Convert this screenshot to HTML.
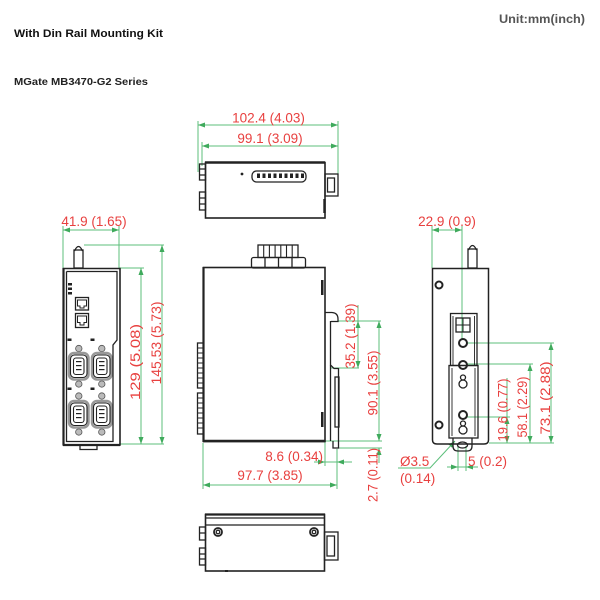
<!DOCTYPE html>
<html><head><meta charset="utf-8"><style>
html,body{margin:0;padding:0;background:#fff;}
svg{display:block}
text{font-family:"Liberation Sans",Arial,sans-serif;}
</style></head><body>
<svg width="600" height="600" viewBox="0 0 600 600" xmlns="http://www.w3.org/2000/svg">
<defs>
<marker id="a" viewBox="0 0 7 5" refX="7" refY="2.5" markerWidth="7" markerHeight="5" orient="auto-start-reverse" markerUnits="userSpaceOnUse"><path d="M0,0L7,2.5L0,5z" fill="#3faa5c"/></marker>
</defs>
<rect width="600" height="600" fill="#fff"/>

<!-- headers -->
<text x="499" y="23" font-size="12" font-weight="bold" fill="#555" textLength="86" lengthAdjust="spacingAndGlyphs">Unit:mm(inch)</text>
<text x="14" y="37" font-size="11" font-weight="bold" fill="#111" textLength="149" lengthAdjust="spacingAndGlyphs">With Din Rail Mounting Kit</text>
<text x="14" y="85" font-size="10.5" font-weight="bold" fill="#222" textLength="134" lengthAdjust="spacingAndGlyphs">MGate MB3470-G2 Series</text>

<!-- ================= GREEN DIMENSION LINES ================= -->
<g stroke="#5cbf7b" stroke-width="1" fill="none">
  <path d="M198,121V172M202,142V166M338,121V176"/>
  <line x1="198" y1="125" x2="338" y2="125" marker-start="url(#a)" marker-end="url(#a)"/>
  <line x1="202" y1="146" x2="338" y2="146" marker-start="url(#a)" marker-end="url(#a)"/>
  <path d="M63,226V268M119,226V268"/>
  <line x1="63" y1="230" x2="119" y2="230" marker-start="url(#a)" marker-end="url(#a)"/>
  <path d="M84,245H164M119,268H144M119,444H164"/>
  <line x1="162" y1="245" x2="162" y2="444" marker-start="url(#a)" marker-end="url(#a)"/>
  <line x1="141" y1="268" x2="141" y2="444" marker-start="url(#a)" marker-end="url(#a)"/>
  <path d="M358,305V321"/>
  <line x1="358" y1="321" x2="358" y2="368" marker-start="url(#a)" marker-end="url(#a)"/>
  <path d="M338,321H381M330,368H359"/>
  <line x1="379" y1="321" x2="379" y2="441" marker-start="url(#a)" marker-end="url(#a)"/>
  <path d="M325,441H382M338,448H382M379,448V463"/>
  <path d="M325,442V466M337,449V489M314,462H352"/>
  <path d="M203,443V489"/>
  <line x1="203" y1="485" x2="337" y2="485" marker-start="url(#a)" marker-end="url(#a)"/>
  <path d="M432,226V268M462,226V340"/>
  <line x1="432" y1="230" x2="462" y2="230" marker-start="url(#a)" marker-end="url(#a)"/>
  <path d="M466,343H554M466,364H533M466,417H510M489,443H554"/>
  <line x1="551" y1="343" x2="551" y2="443" marker-start="url(#a)" marker-end="url(#a)"/>
  <line x1="530" y1="364" x2="530" y2="443" marker-start="url(#a)" marker-end="url(#a)"/>
  <path d="M507,378V417"/>
  <line x1="507" y1="417" x2="507" y2="443" marker-start="url(#a)" marker-end="url(#a)"/>
  <polyline points="398,468 430,468 455,441" marker-end="url(#a)"/>
  <path d="M458,446V471M466,446V471M447,467H478"/>
</g>
<g fill="#3faa5c">
  <polygon points="379,448 376.5,455 381.5,455"/>
  <polygon points="325,462 318,459.5 318,464.5"/>
  <polygon points="337,462 344,459.5 344,464.5"/>
  <polygon points="458,467 451,464.5 451,469.5"/>
  <polygon points="466,467 473,464.5 473,469.5"/>
</g>

<!-- ================= RED LABELS ================= -->
<g fill="#e8403f" font-size="13.5">
  <text x="268.5" y="122.5" text-anchor="middle">102.4 (4.03)</text>
  <text x="270" y="143" text-anchor="middle">99.1 (3.09)</text>
  <text x="94" y="226" text-anchor="middle">41.9 (1.65)</text>
  <text x="447" y="226" text-anchor="middle">22.9 (0.9)</text>
  <text x="323" y="461" text-anchor="end">8.6 (0.34)</text>
  <text x="270" y="480" text-anchor="middle">97.7 (3.85)</text>
  <text x="400" y="466">Ø3.5</text>
  <text x="400" y="483">(0.14)</text>
  <text x="468" y="466">5 (0.2)</text>
</g>
<g fill="#e8403f" font-size="14">
  <text transform="translate(140,362) rotate(-90)" text-anchor="middle" textLength="76" lengthAdjust="spacingAndGlyphs">129 (5.08)</text>
  <text transform="translate(161,343) rotate(-90)" text-anchor="middle" textLength="83" lengthAdjust="spacingAndGlyphs">145.53 (5.73)</text>
  <text transform="translate(355,336) rotate(-90)" text-anchor="middle" textLength="65" lengthAdjust="spacingAndGlyphs">35.2 (1.39)</text>
  <text transform="translate(377.5,383) rotate(-90)" text-anchor="middle" textLength="65" lengthAdjust="spacingAndGlyphs">90.1 (3.55)</text>
  <text transform="translate(377.5,475) rotate(-90)" text-anchor="middle" textLength="54" lengthAdjust="spacingAndGlyphs">2.7 (0.11)</text>
  <text transform="translate(507.5,410) rotate(-90)" text-anchor="middle" textLength="63" lengthAdjust="spacingAndGlyphs">19.6 (0.77)</text>
  <text transform="translate(527,407) rotate(-90)" text-anchor="middle" textLength="61" lengthAdjust="spacingAndGlyphs">58.1 (2.29)</text>
  <text transform="translate(550,398) rotate(-90)" text-anchor="middle" textLength="73" lengthAdjust="spacingAndGlyphs">73.1 (2.88)</text>
</g>

<!-- ================= DEVICE DRAWINGS ================= -->
<!-- DB9 grey flanges -->
<g fill="#bbb" stroke="#555" stroke-width="0.8">
  <circle cx="78.8" cy="348.5" r="3.2"/><circle cx="78.8" cy="384" r="3.2"/>
  <circle cx="101.8" cy="348.5" r="3.2"/><circle cx="101.8" cy="384" r="3.2"/>
  <circle cx="78.8" cy="396" r="3.2"/><circle cx="78.8" cy="432" r="3.2"/>
  <circle cx="101.8" cy="396" r="3.2"/><circle cx="101.8" cy="432" r="3.2"/>
</g>
<g fill="none" stroke="#999" stroke-width="2.5">
  <rect x="69" y="353" width="19.5" height="26.5" rx="5"/>
  <rect x="92" y="353" width="19.5" height="26.5" rx="5"/>
  <rect x="69" y="401" width="19.5" height="26.5" rx="5"/>
  <rect x="92" y="401" width="19.5" height="26.5" rx="5"/>
</g>
<g stroke="#222" stroke-width="1.3" fill="none">
  <!-- TOP VIEW -->
  <rect x="205.5" y="162.5" width="119.5" height="55.5" stroke-width="1.6"/>
  <path d="M205,162.5H325" stroke-width="2.4"/>
  <rect x="199.5" y="164" width="6" height="16"/>
  <path d="M199.5,169H205M199.5,175H205"/>
  <rect x="199.5" y="192" width="6" height="18"/>
  <path d="M199.5,198H205M199.5,204H205"/>
  <rect x="252" y="171" width="54" height="11" rx="4.5" fill="#fff"/>
  <rect x="325" y="174" width="13" height="22"/>
  <rect x="327.5" y="178" width="7" height="14"/>
  <path d="M324.5,199V213" stroke-width="2.4"/>

  <!-- BOTTOM VIEW -->
  <rect x="205.5" y="514.5" width="119" height="56.5" stroke-width="1.6"/>
  <path d="M205,514.5H325" stroke-width="2.2"/>
  <path d="M205,518H325M205,525H325"/>
  <circle cx="218" cy="532" r="4" stroke-width="1.8"/>
  <circle cx="218" cy="532" r="1.8"/>
  <circle cx="314" cy="532" r="4" stroke-width="1.8"/>
  <circle cx="314" cy="532" r="1.8"/>
  <rect x="199.5" y="527" width="6" height="13"/>
  <rect x="199.5" y="548" width="6" height="17"/>
  <path d="M199.5,533H205M199.5,554H205M199.5,559H205"/>
  <rect x="324.5" y="532" width="13.5" height="28"/>
  <rect x="327" y="536" width="7.5" height="20"/>

  <!-- CENTER FRONT VIEW -->
  <rect x="251.5" y="257.5" width="54" height="10.5" rx="2" fill="#fff"/>
  <path d="M265,257.5V268M278.5,257.5V268M292,257.5V268"/>
  <rect x="258" y="245" width="40" height="12.5"/>
  <path d="M263.7,245V257M269.4,245V257M275.1,245V257M280.8,245V257M286.5,245V257M292.2,245V257" stroke-width="1.1"/>
  <rect x="203.5" y="267.5" width="121.5" height="174" stroke-width="1.6"/>
  <path d="M203.5,267V442" stroke-width="2.2"/>
  <path d="M203,441H325" stroke-width="2.6"/>
  <rect x="197.5" y="343" width="6" height="45"/>
  <path d="M197.5,348H203M197.5,353H203M197.5,358H203M197.5,363H203M197.5,368H203M197.5,373H203M197.5,378H203M197.5,383H203" stroke-width="0.9"/>
  <rect x="197.5" y="393" width="6" height="41"/>
  <path d="M197.5,398H203M197.5,403H203M197.5,408H203M197.5,413H203M197.5,418H203M197.5,423H203M197.5,428H203" stroke-width="0.9"/>
  <path d="M325,312.5H332Q338,313 338,319V321.5H331"/>
  <path d="M330.5,321V365L334,368.5H338.5"/>
  <path d="M338.5,368V448H333V441"/>
  <path d="M330.5,365V441"/>
  <rect x="335" y="377" width="4" height="50"/>

  <!-- LEFT VIEW -->
  <rect x="74" y="250" width="9" height="18"/>
  <path d="M74.5,251Q78.5,242 82.5,251"/>
  <path d="M63.5,268.5H120V445H63.5Z" stroke-width="1.6"/>
  <path d="M63.5,268V445.5" stroke-width="2.2"/>
  <path d="M63,445H120" stroke-width="2.2"/>
  <path d="M66.5,271.5V441.5H113V345L117,340V271.5H66.5"/>
  <path d="M80,445.5V449.5H97V445.5"/>
  <rect x="75.5" y="297.5" width="13" height="12.5"/>
  <path d="M77.5,300H86.5V306H84V308H80V306H77.5Z" stroke-width="1"/>
  <rect x="75.5" y="313.5" width="13" height="14"/>
  <path d="M77.5,316H86.5V322.5H84V325H80V322.5H77.5Z" stroke-width="1"/>
  <g stroke-width="1.1">
    <rect x="70.5" y="355" width="16.5" height="22.5" rx="4" fill="#fff"/>
    <rect x="73.5" y="358" width="10.5" height="16.5" rx="2.5"/>
    <rect x="93.5" y="355" width="16.5" height="22.5" rx="4" fill="#fff"/>
    <rect x="96.5" y="358" width="10.5" height="16.5" rx="2.5"/>
    <rect x="70.5" y="403" width="16.5" height="22.5" rx="4" fill="#fff"/>
    <rect x="73.5" y="406" width="10.5" height="16.5" rx="2.5"/>
    <rect x="93.5" y="403" width="16.5" height="22.5" rx="4" fill="#fff"/>
    <rect x="96.5" y="406" width="10.5" height="16.5" rx="2.5"/>
  </g>

  <!-- RIGHT VIEW -->
  <rect x="468" y="249" width="9" height="19"/>
  <path d="M468.5,250Q472.5,241 476.5,250"/>
  <path d="M432.5,268.5H488.5V440Q488.5,444 484,444H437Q432.5,444 432.5,440Z" stroke-width="1.5"/>
  <circle cx="439" cy="285" r="3.5" stroke-width="2"/>
  <circle cx="439" cy="425" r="3.5" stroke-width="2"/>
  <rect x="450.5" y="313.5" width="26.5" height="52"/>
  <path d="M453,316V365M474.5,316V365" stroke-width="0.9"/>
  <rect x="449" y="365.5" width="29" height="72.5"/>
  <path d="M452,368V436M475,368V436" stroke-width="0.9"/>
  <rect x="456" y="318" width="14" height="14"/>
  <path d="M456,325H470M463,318V332" stroke-width="1"/>
  <circle cx="463" cy="343" r="4" stroke-width="2"/>
  <circle cx="463" cy="365" r="4" stroke-width="2"/>
  <circle cx="463" cy="415" r="4" stroke-width="2"/>
  <circle cx="463" cy="384" r="4"/>
  <circle cx="463" cy="377.5" r="2.5"/>
  <circle cx="463" cy="430" r="4"/>
  <circle cx="463" cy="423.5" r="2.5"/>
  <path d="M453,438V446Q453,451 458,451H467Q472,451 472,446V438"/>
  <ellipse cx="462.5" cy="445" rx="5" ry="3"/>
</g>

<g fill="#222">
  <circle cx="242" cy="174" r="1.4"/>
  <rect x="257" y="173.5" width="3" height="4.5"/>
  <rect x="262.5" y="173.5" width="3" height="4.5"/>
  <rect x="268" y="173.5" width="3" height="4.5"/>
  <rect x="273.5" y="173.5" width="3" height="4.5"/>
  <rect x="279" y="173.5" width="3" height="4.5"/>
  <rect x="284.5" y="173.5" width="3" height="4.5"/>
  <rect x="290" y="173.5" width="3" height="4.5"/>
  <rect x="295.5" y="173.5" width="3" height="4.5"/>
  <rect x="301" y="173.5" width="3" height="4.5"/>
  <rect x="225" y="570" width="3" height="2"/>
  <rect x="321" y="280" width="2.5" height="15"/>
  <rect x="321" y="412" width="2.5" height="15"/>
  <rect x="68" y="283" width="4" height="2.5"/>
  <rect x="68" y="287.5" width="4" height="2.5"/>
  <rect x="68" y="292" width="4" height="2.5"/>
  <rect x="67.5" y="338.5" width="4" height="2.5"/>
  <rect x="90.5" y="338.5" width="4" height="2.5"/>
  <rect x="67.5" y="387.5" width="4" height="2.5"/>
  <rect x="90.5" y="387.5" width="4" height="2.5"/>
  <rect x="76" y="361" width="5.5" height="1.2"/><rect x="76" y="365" width="5.5" height="1.2"/><rect x="76" y="369" width="5.5" height="1.2"/>
  <rect x="99" y="361" width="5.5" height="1.2"/><rect x="99" y="365" width="5.5" height="1.2"/><rect x="99" y="369" width="5.5" height="1.2"/>
  <rect x="76" y="409" width="5.5" height="1.2"/><rect x="76" y="413" width="5.5" height="1.2"/><rect x="76" y="417" width="5.5" height="1.2"/>
  <rect x="99" y="409" width="5.5" height="1.2"/><rect x="99" y="413" width="5.5" height="1.2"/><rect x="99" y="417" width="5.5" height="1.2"/>
</g>
</svg>
</body></html>
